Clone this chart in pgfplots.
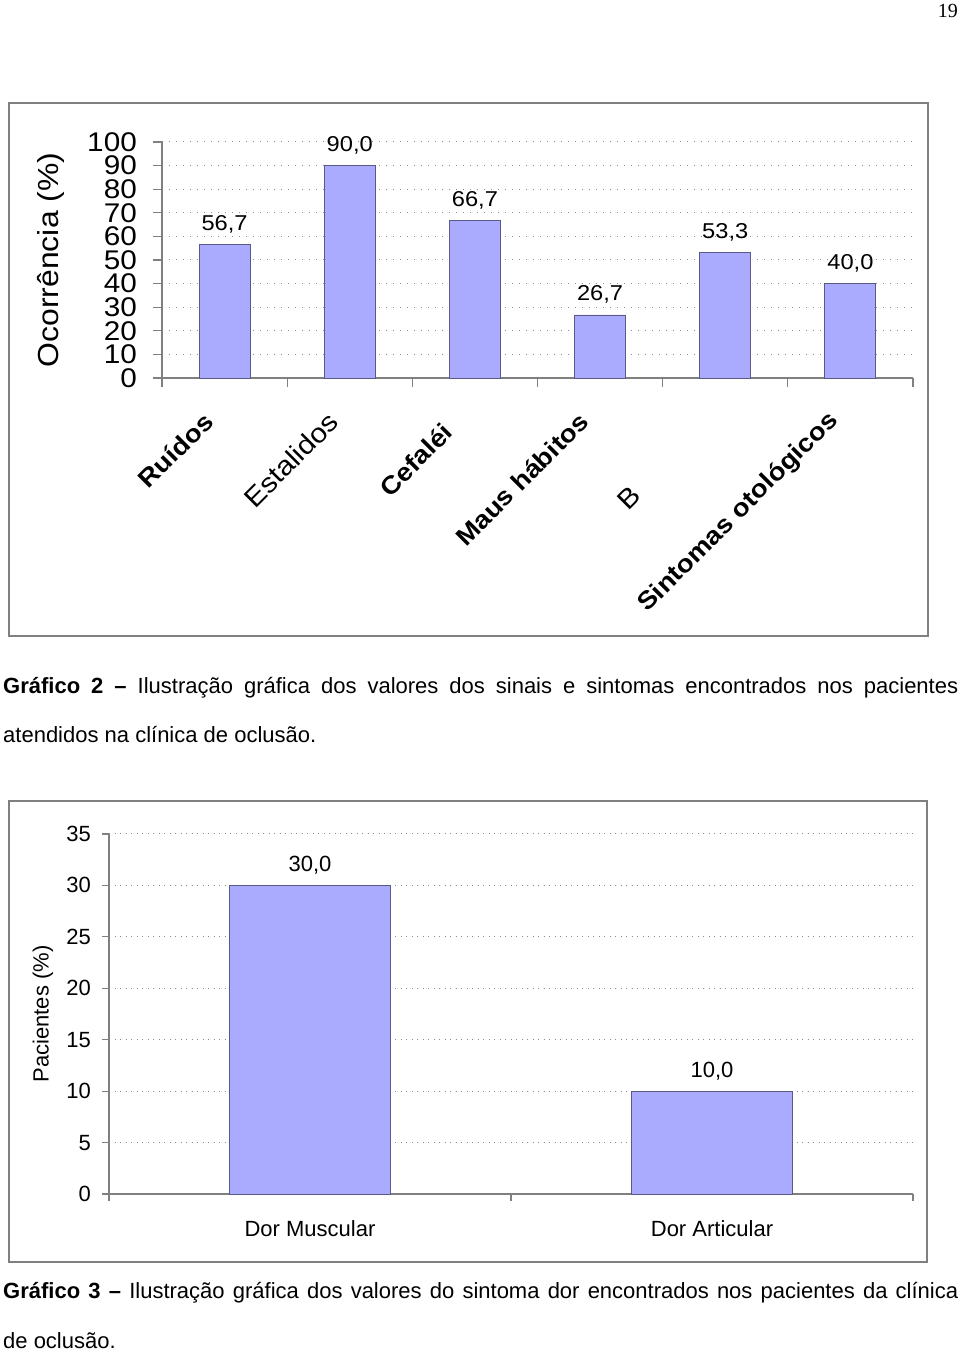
\documentclass[border=0pt]{standalone}
\usepackage{fontspec}
\setmainfont{Liberation Sans}
\newfontfamily\wide[FakeStretch=1.1]{Liberation Sans}
\newfontfamily\serifpn{Liberation Serif}
\usepackage{pgfplots}
\pgfplotsset{compat=1.18}
\definecolor{barfill}{RGB}{170,170,255}
\definecolor{baredge}{RGB}{90,90,135}
\definecolor{axgray}{RGB}{128,128,128}
\definecolor{gridgray}{RGB}{140,140,140}
\begin{document}
\begin{tikzpicture}
\useasboundingbox (0,0) rectangle (960pt,1352pt);
\fill[white] (0,0) rectangle (960pt,1352pt);
\node[anchor=base east, inner sep=0pt, font=\serifpn\fontsize{20}{24}\selectfont] at (958pt,1334pt) {19};
% frames
\draw[axgray, line width=1.4pt] (9pt,716pt) rectangle (928pt,1249pt);
\draw[axgray, line width=1.4pt] (9pt,90pt) rectangle (927pt,551pt);

% ---------- top chart ----------
\begin{axis}[
  at={(162pt,974pt)}, anchor=south west,
  width=751pt, height=236pt, scale only axis,
  xmin=-0.5, xmax=5.5, ymin=0, ymax=100,
  ybar, bar width=51pt,
  axis x line*=bottom, axis y line*=left,
  axis line style={axgray, line width=1.3pt},
  ytick={0,10,...,100},
  ymajorgrids,
  major grid style={gridgray, line width=1pt, dash pattern=on 1.2pt off 5.8pt},
  tick align=outside,
  major tick length=9pt,
  tick style={axgray, line width=1.1pt},
  /pgf/number format/assume math mode=true,
  yticklabel style={font=\wide\fontsize{27}{27}\selectfont, inner sep=0pt, anchor=east, xshift=-16pt},
  xtick={-0.5,0.5,...,5.5},
  xticklabels={\empty,\empty,\empty,\empty,\empty,\empty,\empty},
  extra x ticks={0,1,2,3,4,5},
  extra x tick labels={\textbf{Ruídos},{\fontsize{27}{27}\selectfont Estalidos},\textbf{Cefaléi\phantom{a}},\textbf{Maus hábitos},{\fontsize{27}{27}\selectfont B\phantom{ruxismo}},\textbf{Sintomas otológicos}},
  extra x tick style={tick style={draw=none},
     xticklabel style={font=\wide\fontsize{25}{25}\selectfont, xshift=-16pt, yshift=-30pt, rotate=45, anchor=east, inner sep=0pt}},
  ylabel={Ocorrência (\%)},
  every axis y label/.style={at={(axis description cs:-0.1478,0.5)}, anchor=center, rotate=90, font=\wide\fontsize{29}{29}\selectfont},
  nodes near coords={\pgfmathprintnumber[fixed,fixed zerofill,precision=1,use comma]{\pgfplotspointmeta}},
  every node near coord/.append style={font=\wide\fontsize{21.5}{21.5}\selectfont, anchor=base, inner sep=0pt, yshift=14pt, black},
  clip=false,
]
\addplot[fill=barfill, draw=baredge, line width=0.9pt] coordinates {(0,56.7) (1,90.0) (2,66.7) (3,26.7) (4,53.3) (5,40.0)};
\end{axis}

% ---------- bottom chart ----------
\begin{axis}[
  at={(109pt,158pt)}, anchor=south west,
  width=804pt, height=360pt, scale only axis,
  xmin=-0.5, xmax=1.5, ymin=0, ymax=35,
  ybar, bar width=161pt,
  axis x line*=bottom, axis y line*=left,
  axis line style={axgray, line width=1.3pt},
  ytick={0,5,...,35},
  ymajorgrids,
  major grid style={gridgray, line width=1pt, dash pattern=on 1.2pt off 4.3pt},
  tick align=outside,
  major tick length=7pt,
  tick style={axgray, line width=1.1pt},
  /pgf/number format/assume math mode=true,
  yticklabel style={font=\fontsize{22}{22}\selectfont, inner sep=0pt, anchor=east, xshift=-11pt},
  xtick={-0.5,0.5,1.5},
  xticklabels={\empty,\empty,\empty},
  extra x ticks={0,1},
  extra x tick labels={Dor Muscular,Dor Articular},
  extra x tick style={tick style={draw=none},
     xticklabel style={font=\fontsize{22}{22}\selectfont, anchor=north, inner sep=0pt, yshift=-19pt}},
  ylabel={Pacientes (\%)},
  every axis y label/.style={at={(axis description cs:-0.0821,0.5)}, anchor=center, rotate=90, font=\fontsize{22}{22}\selectfont},
  nodes near coords={\pgfmathprintnumber[fixed,fixed zerofill,precision=1,use comma]{\pgfplotspointmeta}},
  every node near coord/.append style={font=\fontsize{22}{22}\selectfont, anchor=base, inner sep=0pt, yshift=13.5pt, black},
  clip=false,
]
\addplot[fill=barfill, draw=baredge, line width=0.9pt] coordinates {(0,30.0) (1,10.0)};
\end{axis}

% captions
\node[anchor=base west, inner sep=0pt, font=\fontsize{22}{24}\selectfont] at (3pt,658pt)
  {\makebox[955pt][s]{\textbf{Gráfico 2 –} Ilustração gráfica dos valores dos sinais e sintomas encontrados nos pacientes}};
\node[anchor=base west, inner sep=0pt, font=\fontsize{22}{24}\selectfont] at (3pt,609pt)
  {atendidos na clínica de oclusão.};
\node[anchor=base west, inner sep=0pt, font=\fontsize{22}{24}\selectfont] at (3pt,53pt)
  {\makebox[955pt][s]{\textbf{Gráfico 3 –} Ilustração gráfica dos valores do sintoma dor encontrados nos pacientes da clínica}};
\node[anchor=base west, inner sep=0pt, font=\fontsize{22}{24}\selectfont] at (3pt,4pt)
  {de oclusão.};
\end{tikzpicture}
\end{document}
